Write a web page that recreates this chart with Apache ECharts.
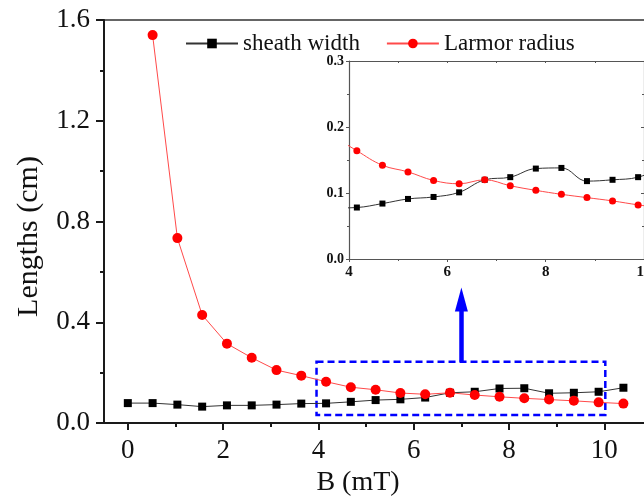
<!DOCTYPE html>
<html>
<head>
<meta charset="utf-8">
<script src="https://cdn.jsdelivr.net/npm/echarts@6/dist/echarts.min.js"></script>
<style>
  html, body { margin: 0; padding: 0; background: #fff; }
  #chart { width: 644px; height: 501px; }
</style>
</head>
<body>
<div id="chart"></div>
<script>
// Magnetic field B (mT)
const fieldB = [0, 0.52, 1.04, 1.56, 2.08, 2.6, 3.12, 3.64, 4.16, 4.68, 5.2,
                5.72, 6.24, 6.76, 7.28, 7.8, 8.32, 8.84, 9.36, 9.88, 10.4];
// Sheath width (cm)
const sheathWidth = [0.079, 0.079, 0.073, 0.065, 0.070, 0.070, 0.073, 0.077, 0.078, 0.084, 0.091,
                     0.094, 0.101, 0.120, 0.124, 0.137, 0.138, 0.118, 0.120, 0.124, 0.140];
// Larmor radius (cm); undefined at B = 0
const larmorRadius = [null, 1.540, 0.734, 0.429, 0.315, 0.259, 0.210, 0.188, 0.164, 0.142, 0.132,
                      0.119, 0.114, 0.120, 0.111, 0.104, 0.098, 0.093, 0.088, 0.082, 0.077];
// Tick labels
const mainXTicks = [0, 2, 4, 6, 8, 10];
const mainXMinorTicks = [1, 3, 5, 7, 9];
const seriesNames = ['sheath width', 'Larmor radius'];

// Zoomed region shown in the inset
const zoomX = [3.96, 10.02];
const zoomY = [0.032, 0.243];

const pairs = (ys) => fieldB.map((b, i) => [b, ys[i]]).filter(p => p[1] != null);

const FONT = '"Liberation Serif", "Times New Roman", serif';
const BLUE = '#0000ff';

const chart = echarts.init(document.getElementById('chart'));

const insetAxisLine = { lineStyle: { color: '#555', width: 1.2 } };
const insetLabel = { fontFamily: FONT, fontWeight: 'bold', fontSize: 15, color: '#111' };

chart.setOption({
  animation: false,
  backgroundColor: '#fff',
  legend: {
    left: 180, top: 27,
    itemWidth: 52, itemHeight: 12, itemGap: 26,
    data: seriesNames,
    textStyle: { fontFamily: FONT, fontSize: 23, color: '#111' }
  },
  grid: [
    { left: 104, top: 20, width: 548, height: 403, show: true, outerBoundsMode: 'none',
      containLabel: false, borderColor: '#333', borderWidth: 1.5, backgroundColor: 'transparent' },
    { left: 349, top: 61, width: 295, height: 198, show: true, outerBoundsMode: 'none',
      containLabel: false, borderWidth: 0, backgroundColor: '#fff' }
  ],
  xAxis: [
    { // main axis
      type: 'value', gridIndex: 0, min: -0.5, max: 11,
      name: 'B (mT)', nameLocation: 'middle', nameGap: 43,
      nameTextStyle: { fontFamily: FONT, fontSize: 28, color: '#111', padding: [0, 40, 0, 0] },
      axisLine: { onZero: false, lineStyle: { color: '#1a1a1a', width: 2 } },
      axisTick: { customValues: mainXTicks, length: 7, lineStyle: { width: 2, color: '#1a1a1a' } },
      axisLabel: { customValues: mainXTicks, fontFamily: FONT, fontSize: 27, color: '#111', margin: 14 },
      splitLine: { show: false }
    },
    { // main minor ticks
      type: 'value', gridIndex: 0, min: -0.5, max: 11, position: 'bottom',
      axisLine: { show: false },
      axisTick: { customValues: mainXMinorTicks, length: 4, lineStyle: { width: 2, color: '#1a1a1a' } },
      axisLabel: { show: false, customValues: mainXMinorTicks },
      splitLine: { show: false }
    },
    { // inset bottom
      type: 'value', gridIndex: 1, min: 4, max: 10, interval: 2,
      axisLine: { onZero: false, ...insetAxisLine },
      axisTick: { length: 3, lineStyle: { color: '#555' } },
      minorTick: { show: true, splitNumber: 2, length: 2, lineStyle: { color: '#555' } },
      axisLabel: { ...insetLabel, margin: 6 },
      splitLine: { show: false }
    },
    { // inset top
      type: 'value', gridIndex: 1, min: 4, max: 10, interval: 2, position: 'top',
      axisLine: { onZero: false, ...insetAxisLine },
      axisTick: { inside: true, length: 2, lineStyle: { color: '#555' } },
      minorTick: { show: true, splitNumber: 2, length: 2, lineStyle: { color: '#555' } },
      axisLabel: { show: false },
      splitLine: { show: false }
    }
  ],
  yAxis: [
    { // main axis
      type: 'value', gridIndex: 0, min: 0, max: 1.6, interval: 0.4,
      name: 'Lengths (cm)', nameLocation: 'middle', nameGap: 60, nameRotate: 90,
      nameTextStyle: { fontFamily: FONT, fontSize: 30, color: '#111', padding: [0, 30, 0, 0] },
      axisLine: { show: true, onZero: false, lineStyle: { color: '#1a1a1a', width: 2 } },
      axisTick: { show: true, length: 8, lineStyle: { width: 2, color: '#1a1a1a' } },
      minorTick: { show: true, splitNumber: 2, length: 4, lineStyle: { width: 2, color: '#1a1a1a' } },
      axisLabel: { fontFamily: FONT, fontSize: 27, color: '#111', margin: 14,
                   formatter: v => v.toFixed(1) },
      splitLine: { show: false }
    },
    { // inset left
      type: 'value', gridIndex: 1, min: 0, max: 0.3, interval: 0.1,
      axisLine: { show: true, onZero: false, ...insetAxisLine },
      axisTick: { show: true, length: 3, lineStyle: { color: '#555' } },
      minorTick: { show: true, splitNumber: 2, length: 2, lineStyle: { color: '#555' } },
      axisLabel: { ...insetLabel, fontSize: 14, margin: 5, formatter: v => v.toFixed(1) },
      splitLine: { show: false }
    },
    { // inset right
      type: 'value', gridIndex: 1, min: 0, max: 0.3, interval: 0.1, position: 'right',
      axisLine: { show: true, onZero: false, ...insetAxisLine },
      axisTick: { show: true, inside: true, length: 3, lineStyle: { color: '#555' } },
      minorTick: { show: true, splitNumber: 2, length: 2, lineStyle: { color: '#555' } },
      axisLabel: { show: false },
      splitLine: { show: false }
    }
  ],
  series: [
    {
      name: seriesNames[0], type: 'line', xAxisIndex: 0, yAxisIndex: 0,
      data: pairs(sheathWidth),
      symbol: 'rect', symbolSize: 8,
      itemStyle: { color: '#000' },
      lineStyle: { color: '#333', width: 1 },
      markArea: {
        silent: true,
        itemStyle: { color: 'rgba(0,0,0,0)', borderColor: BLUE, borderWidth: 2.5, borderType: [7, 4] },
        data: [[{ coord: [zoomX[0], zoomY[1]] }, { coord: [zoomX[1], zoomY[0]] }]]
      }
    },
    {
      name: seriesNames[1], type: 'line', xAxisIndex: 0, yAxisIndex: 0,
      data: pairs(larmorRadius),
      symbol: 'circle', symbolSize: 10,
      itemStyle: { color: '#ff0000' },
      lineStyle: { color: '#ff4a4a', width: 1 },
      markLine: {
        silent: true, symbol: ['none', 'none'], label: { show: false },
        lineStyle: { color: BLUE, width: 4.5, type: 'solid' },
        data: [[{ coord: [7, zoomY[1]] }, { coord: [7, 0.46] }]]
      },
      markPoint: {
        silent: true, symbol: 'triangle', symbolSize: [13, 24],
        itemStyle: { color: BLUE }, label: { show: false },
        data: [{ coord: [7, 0.49] }]
      }
    },
    {
      name: seriesNames[0], type: 'line', xAxisIndex: 2, yAxisIndex: 1,
      data: pairs(sheathWidth), smooth: 0.4, clip: true,
      symbol: 'rect', symbolSize: 6,
      itemStyle: { color: '#000' },
      lineStyle: { color: '#333', width: 1 }
    },
    {
      name: seriesNames[1], type: 'line', xAxisIndex: 2, yAxisIndex: 1,
      data: pairs(larmorRadius), smooth: 0.4, clip: true,
      symbol: 'circle', symbolSize: 7,
      itemStyle: { color: '#ff0000' },
      lineStyle: { color: '#ff4a4a', width: 1 }
    }
  ]
});
</script>
</body>
</html>
